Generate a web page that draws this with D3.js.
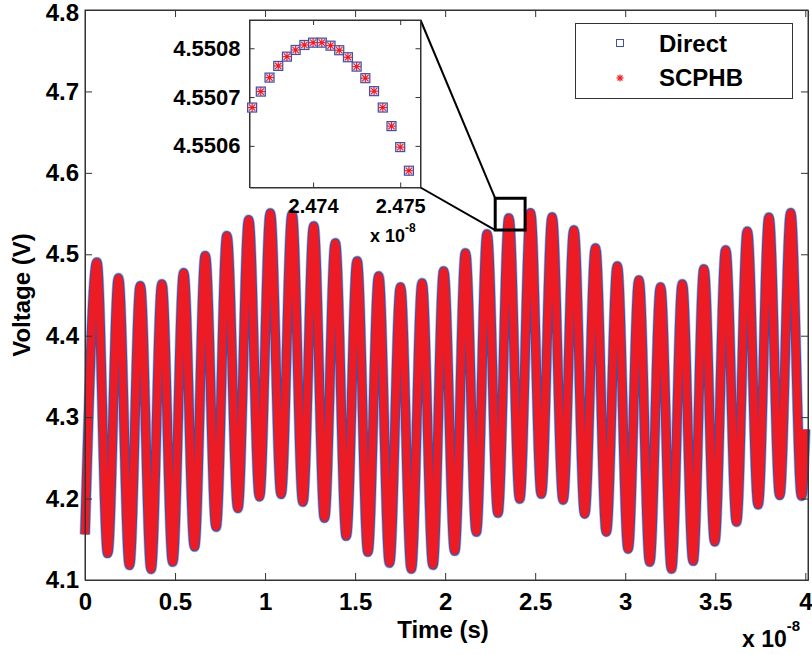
<!DOCTYPE html>
<html>
<head>
<meta charset="utf-8">
<script src="https://cdn.jsdelivr.net/npm/d3@7"></script>
<style>
  html, body { margin: 0; padding: 0; background: #fff; }
  svg { display: block; }
  text { font-family: "Liberation Sans", Arial, sans-serif; font-weight: bold; fill: #000; }
</style>
</head>
<body>
<svg id="chart" width="812" height="655"></svg>
<script>
// Times are in units of 1e-8 s, voltages in V.
// Extrema of the output-voltage waveform (peaks and troughs of each cycle).
const peakTimes = [0.066, 0.186, 0.307, 0.427, 0.548, 0.668, 0.788, 0.909, 1.029, 1.150,
  1.270, 1.390, 1.511, 1.631, 1.752, 1.872, 1.992, 2.113, 2.233, 2.354,
  2.474, 2.594, 2.715, 2.835, 2.956, 3.076, 3.196, 3.317, 3.437, 3.558,
  3.678, 3.798, 3.919];
const peakVolts = [4.4901, 4.4709, 4.4614, 4.4635, 4.4774, 4.4982, 4.5228, 4.5425, 4.5507, 4.5495,
  4.5347, 4.5138, 4.4917, 4.4733, 4.4598, 4.4647, 4.4795, 4.5016, 4.5249, 4.5445,
  4.5508, 4.5458, 4.5298, 4.5077, 4.4856, 4.4684, 4.4598, 4.4635, 4.4819, 4.5052,
  4.5282, 4.5454, 4.5510];
const troughTimes = [0.000, 0.126, 0.247, 0.367, 0.487, 0.608, 0.728, 0.849, 0.969, 1.089,
  1.210, 1.330, 1.451, 1.571, 1.691, 1.812, 1.932, 2.053, 2.173, 2.293,
  2.414, 2.534, 2.655, 2.775, 2.895, 3.016, 3.136, 3.257, 3.377, 3.497,
  3.618, 3.738, 3.858, 3.979];
const troughVolts = [4.1561, 4.1328, 4.1181, 4.1132, 4.1221, 4.1409, 4.1651, 4.1881, 4.2023, 4.2053,
  4.1958, 4.1762, 4.1540, 4.1344, 4.1209, 4.1135, 4.1184, 4.1356, 4.1590, 4.1823,
  4.1995, 4.2056, 4.1983, 4.1811, 4.1590, 4.1381, 4.1221, 4.1135, 4.1233, 4.1470,
  4.1712, 4.1925, 4.2040, 4.2032];
const endTime = 4.000;
const endVolt = 4.285;

// Zoomed samples around the peak near 2.474e-8 s (1 ps step).
const insetTimes = [2.4733, 2.4734, 2.4735, 2.4736, 2.4737, 2.4738, 2.4739, 2.4740, 2.4741, 2.4742,
  2.4743, 2.4744, 2.4745, 2.4746, 2.4747, 2.4748, 2.4749, 2.4750, 2.4751];
const insetDirect = [4.5506785, 4.5507112, 4.5507399, 4.5507638, 4.5507828, 4.5507965, 4.5508067, 4.5508115, 4.5508115, 4.5508053,
  4.5507959, 4.5507816, 4.5507624, 4.5507387, 4.5507121, 4.5506785, 4.5506405, 4.5505975, 4.5505491];
const insetSCPHB = insetDirect.slice();

const xTicks = [0, 0.5, 1, 1.5, 2, 2.5, 3, 3.5, 4];
const yTicks = [4.1, 4.2, 4.3, 4.4, 4.5, 4.6, 4.7, 4.8];
const insetXTicks = [2.474, 2.475];
const insetYTicks = [4.5506, 4.5507, 4.5508];
const legendLabels = ["Direct", "SCPHB"];
const zoomBox = { t0: 2.278, t1: 2.444, v0: 4.5298, v1: 4.5688 };

const BLUE = "#3f51a6";
const HALO = "#b7bfe4";
const RED = "#ed1c24";
const FRAME = "#333";

// Merge the extrema into one time-ordered waveform.
const wave = peakTimes.map((t, i) => [t, peakVolts[i]])
  .concat(troughTimes.map((t, i) => [t, troughVolts[i]]))
  .concat([[endTime, endVolt]])
  .sort((a, b) => a[0] - b[0]);

const svg = d3.select("#chart");
const W = { left: 85, right: 808, top: 10, bottom: 580 };

const x = d3.scaleLinear().domain([0, 4.015]).range([W.left, W.right]);
const y = d3.scaleLinear().domain([4.1, 4.8]).range([W.bottom, W.top]);

// Waveform: Direct (blue, underneath) and SCPHB (red, on top).
const line = d3.line().x(d => x(d[0])).y(d => y(d[1])).curve(d3.curveMonotoneX);
const g = svg.append("g");
g.append("path").attr("d", line(wave)).attr("fill", "none")
  .attr("stroke", HALO).attr("stroke-width", 11).attr("stroke-linejoin", "round");
g.append("path").attr("d", line(wave)).attr("fill", "none")
  .attr("stroke", BLUE).attr("stroke-width", 9.6).attr("stroke-linejoin", "round");
g.append("path").attr("d", line(wave)).attr("fill", "none")
  .attr("stroke", RED).attr("stroke-width", 7.6).attr("stroke-linejoin", "round");

// Axes with inward ticks on all four sides.
const fs = 24;
const xAxisB = d3.axisBottom(x).tickValues(xTicks).tickSizeInner(-7).tickSizeOuter(0)
  .tickPadding(13).tickFormat(d3.format("~g"));
const yAxisL = d3.axisLeft(y).tickValues(yTicks).tickSizeInner(-7).tickSizeOuter(0)
  .tickPadding(6).tickFormat(d3.format(".1f"));
const gx = svg.append("g").attr("transform", `translate(0,${W.bottom})`).call(xAxisB);
const gy = svg.append("g").attr("transform", `translate(${W.left},0)`).call(yAxisL);
svg.append("g").attr("transform", `translate(0,${W.top})`)
  .call(d3.axisTop(x).tickValues(xTicks).tickSizeInner(-7).tickSizeOuter(0).tickFormat(""));
svg.append("g").attr("transform", `translate(${W.right},0)`)
  .call(d3.axisRight(y).tickValues(yTicks).tickSizeInner(-7).tickSizeOuter(0).tickFormat(""));
svg.selectAll(".domain").attr("stroke", FRAME);
svg.selectAll(".tick line").attr("stroke", FRAME);
[gx, gy].forEach(a => a.selectAll("text").attr("font-size", fs)
  .attr("font-family", "Liberation Sans, Arial, sans-serif").attr("font-weight", "bold").attr("fill", "#000"));
gx.selectAll("text").attr("dy", "0.71em");
// keep the topmost y label inside the page
gy.selectAll(".tick text").filter(d => d === 4.8).attr("dy", "0.44em");
svg.append("rect").attr("x", W.left).attr("y", W.top)
  .attr("width", W.right - W.left).attr("height", W.bottom - W.top)
  .attr("fill", "none").attr("stroke", FRAME).attr("stroke-width", 1);

// Axis titles and exponent.
svg.append("text").attr("x", 443).attr("y", 638).attr("text-anchor", "middle")
  .attr("font-size", fs).text("Time (s)");
svg.append("text").attr("transform", "translate(30,295) rotate(-90)")
  .attr("text-anchor", "middle").attr("font-size", fs).text("Voltage (V)");
const ex = svg.append("text").attr("x", 742).attr("y", 647).attr("font-size", 23);
ex.append("tspan").text("x 10");
ex.append("tspan").attr("dy", -16).attr("font-size", 15).text("-8");

// Legend.
const lg = svg.append("g");
lg.append("rect").attr("x", 575.5).attr("y", 23.5).attr("width", 217).attr("height", 75)
  .attr("fill", "#fff").attr("stroke", FRAME);
lg.append("rect").attr("x", 616.5).attr("y", 39.5).attr("width", 7).attr("height", 7)
  .attr("fill", "none").attr("stroke", BLUE).attr("stroke-width", 1);
function star(sel, cx, cy, r, w) {
  const s = sel.append("g").attr("transform", `translate(${cx},${cy})`);
  [0, 45, 90, 135].forEach(a => {
    const rad = a * Math.PI / 180;
    s.append("line").attr("x1", -r * Math.cos(rad)).attr("y1", -r * Math.sin(rad))
      .attr("x2", r * Math.cos(rad)).attr("y2", r * Math.sin(rad))
      .attr("stroke", RED).attr("stroke-width", w);
  });
  return s;
}
star(lg, 620, 78, 3.5, 1.2);
lg.selectAll("text").data(legendLabels).enter().append("text")
  .attr("x", 659).attr("y", (d, i) => 52 + i * 34).attr("font-size", 24).text(d => d);

// Zoom box on the main waveform and leader lines to the inset.
const IN = { left: 249.5, right: 420.5, top: 20, bottom: 187.5 };
const bx0 = x(zoomBox.t0), bx1 = x(zoomBox.t1), by0 = y(zoomBox.v1), by1 = y(zoomBox.v0);
svg.append("line").attr("x1", IN.right).attr("y1", IN.top).attr("x2", bx0).attr("y2", by0)
  .attr("stroke", "#000").attr("stroke-width", 2);
svg.append("line").attr("x1", IN.right).attr("y1", IN.bottom).attr("x2", bx0).attr("y2", by1)
  .attr("stroke", "#000").attr("stroke-width", 2);
svg.append("rect").attr("x", bx0).attr("y", by0).attr("width", bx1 - bx0).attr("height", by1 - by0)
  .attr("fill", "none").attr("stroke", "#000").attr("stroke-width", 3);

// Inset: zoomed samples near the peak.
const xi = d3.scaleLinear().domain([2.47327, 2.475233]).range([IN.left, IN.right]);
const yi = d3.scaleLinear().domain([4.5505147, 4.55085788]).range([IN.bottom, IN.top]);
const ig = svg.append("g");
ig.append("rect").attr("x", IN.left).attr("y", IN.top).attr("width", IN.right - IN.left)
  .attr("height", IN.bottom - IN.top).attr("fill", "#fff").attr("stroke", FRAME);
const ixB = ig.append("g").attr("transform", `translate(0,${IN.bottom})`)
  .call(d3.axisBottom(xi).tickValues(insetXTicks).tickSizeInner(-5).tickSizeOuter(0)
    .tickPadding(11).tickFormat(d3.format(".3f")));
const iyL = ig.append("g").attr("transform", `translate(${IN.left},0)`)
  .call(d3.axisLeft(yi).tickValues(insetYTicks).tickSizeInner(-5).tickSizeOuter(0)
    .tickPadding(9).tickFormat(d3.format(".4f")));
ig.append("g").attr("transform", `translate(0,${IN.top})`)
  .call(d3.axisTop(xi).tickValues(insetXTicks).tickSizeInner(-5).tickSizeOuter(0).tickFormat(""));
ig.append("g").attr("transform", `translate(${IN.right},0)`)
  .call(d3.axisRight(yi).tickValues(insetYTicks).tickSizeInner(-5).tickSizeOuter(0).tickFormat(""));
ig.selectAll(".domain").attr("stroke", FRAME);
ig.selectAll(".tick line").attr("stroke", FRAME);
ixB.selectAll("text").attr("font-size", 20);
iyL.selectAll("text").attr("font-size", 22);
[ixB, iyL].forEach(a => a.selectAll("text")
  .attr("font-family", "Liberation Sans, Arial, sans-serif").attr("font-weight", "bold").attr("fill", "#000"));
ixB.selectAll("text").attr("dy", "0.71em");
const iex = ig.append("text").attr("x", 370).attr("y", 242).attr("font-size", 18);
iex.append("tspan").text("x 10");
iex.append("tspan").attr("dy", -10).attr("font-size", 12).text("-8");

// Inset markers: Direct squares, SCPHB stars.
insetTimes.forEach((t, i) => {
  const cx = xi(t), cy = yi(insetDirect[i]);
  ig.append("rect").attr("x", cx - 4.5).attr("y", cy - 4.5).attr("width", 9).attr("height", 9)
    .attr("fill", "#dfe3f5").attr("stroke", BLUE).attr("stroke-width", 1.2);
});
insetTimes.forEach((t, i) => {
  star(ig, xi(t), yi(insetSCPHB[i]), 4.5, 1.1);
  ig.append("circle").attr("cx", xi(t)).attr("cy", yi(insetSCPHB[i])).attr("r", 1.4).attr("fill", RED);
});
</script>
</body>
</html>
